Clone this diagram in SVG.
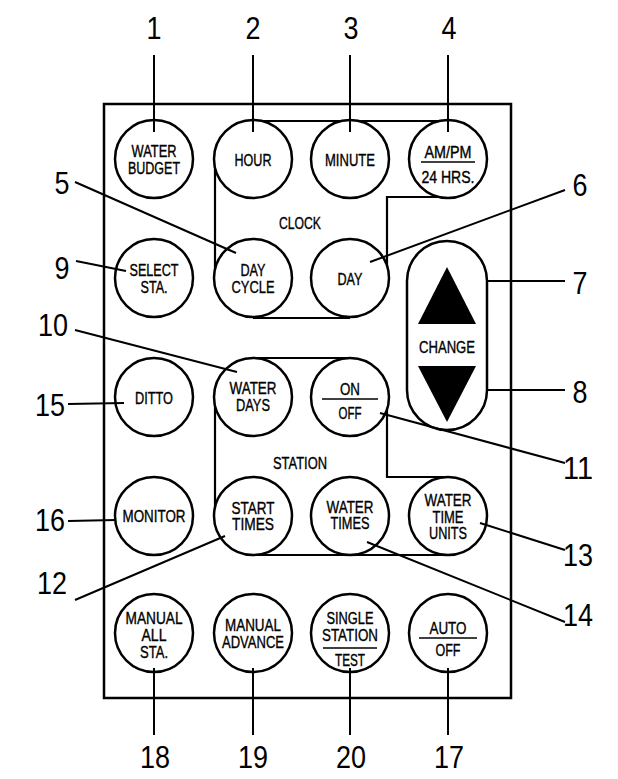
<svg xmlns="http://www.w3.org/2000/svg" width="618" height="779" viewBox="0 0 618 779">
<style>
.bg{fill:#fff}
.panel{fill:none;stroke:#000;stroke-width:2.5}
.btn{fill:#fff;stroke:#000;stroke-width:2.5}
.br{fill:none;stroke:#000;stroke-width:2.2}
.ld{fill:none;stroke:#000;stroke-width:2}
.sep{stroke:#000;stroke-width:1.6}
.t{font-family:"Liberation Sans",Arial,sans-serif;font-size:16px;text-anchor:middle;fill:#000;stroke:#000;stroke-width:0.35}
.n{font-family:"Liberation Sans",Arial,sans-serif;font-size:31px;text-anchor:middle;fill:#000}
</style>
<rect class="bg" x="0" y="0" width="618" height="779"/>
<rect class="panel" x="104" y="104" width="407" height="594"/>
<g id="brackets">
<path class="br" d="M253 121H448M215 159V278M253 318H350M387 278V197H448"/>
<path class="br" d="M253 358H350M215 397V516M253 555H448M387 397V477H448"/>
<text class="t" x="300" y="229" textLength="42" lengthAdjust="spacingAndGlyphs">CLOCK</text>
<text class="t" x="300" y="469" textLength="54" lengthAdjust="spacingAndGlyphs">STATION</text>
</g>
<g id="water-budget"><circle class="btn" cx="154" cy="159" r="39"/><text class="t" x="154" y="157" textLength="45" lengthAdjust="spacingAndGlyphs">WATER</text><text class="t" x="154" y="174" textLength="52" lengthAdjust="spacingAndGlyphs">BUDGET</text></g>
<g id="hour"><circle class="btn" cx="253" cy="159" r="39"/><text class="t" x="253" y="165.5" textLength="37" lengthAdjust="spacingAndGlyphs">HOUR</text></g>
<g id="minute"><circle class="btn" cx="350" cy="159" r="39"/><text class="t" x="350" y="165.5" textLength="50" lengthAdjust="spacingAndGlyphs">MINUTE</text></g>
<g id="ampm"><circle class="btn" cx="448" cy="159" r="39"/><text class="t" x="448" y="158" textLength="47" lengthAdjust="spacingAndGlyphs">AM/PM</text><line class="sep" x1="421" y1="162" x2="475" y2="162"/><text class="t" x="448" y="183" textLength="53" lengthAdjust="spacingAndGlyphs">24 HRS.</text></g>
<g id="select-sta"><circle class="btn" cx="154" cy="278" r="39"/><text class="t" x="154" y="276" textLength="49" lengthAdjust="spacingAndGlyphs">SELECT</text><text class="t" x="154" y="293" textLength="27" lengthAdjust="spacingAndGlyphs">STA.</text></g>
<g id="day-cycle"><circle class="btn" cx="253" cy="278" r="39"/><text class="t" x="253" y="276" textLength="25" lengthAdjust="spacingAndGlyphs">DAY</text><text class="t" x="253" y="293" textLength="43" lengthAdjust="spacingAndGlyphs">CYCLE</text></g>
<g id="day"><circle class="btn" cx="350" cy="278" r="39"/><text class="t" x="350" y="284.5" textLength="25" lengthAdjust="spacingAndGlyphs">DAY</text></g>
<g id="change"><rect class="btn" x="407" y="241" width="80" height="189" rx="40"/><polygon points="447,267 476,324 418,324"/><text class="t" x="447" y="353" textLength="56" lengthAdjust="spacingAndGlyphs">CHANGE</text><polygon points="418,366 476,366 447,422"/></g>
<g id="ditto"><circle class="btn" cx="154" cy="397" r="39"/><text class="t" x="154" y="404" textLength="38" lengthAdjust="spacingAndGlyphs">DITTO</text></g>
<g id="water-days"><circle class="btn" cx="253" cy="397" r="39"/><text class="t" x="253" y="394" textLength="47" lengthAdjust="spacingAndGlyphs">WATER</text><text class="t" x="253" y="411" textLength="34" lengthAdjust="spacingAndGlyphs">DAYS</text></g>
<g id="on-off"><circle class="btn" cx="350" cy="397" r="39"/><text class="t" x="350" y="395" textLength="20" lengthAdjust="spacingAndGlyphs">ON</text><line class="sep" x1="322" y1="399" x2="378" y2="399"/><text class="t" x="350" y="419" textLength="23" lengthAdjust="spacingAndGlyphs">OFF</text></g>
<g id="monitor"><circle class="btn" cx="154" cy="516" r="39"/><text class="t" x="154" y="521.5" textLength="63" lengthAdjust="spacingAndGlyphs">MONITOR</text></g>
<g id="start-times"><circle class="btn" cx="253" cy="516" r="39"/><text class="t" x="253" y="514" textLength="43" lengthAdjust="spacingAndGlyphs">START</text><text class="t" x="253" y="530" textLength="42" lengthAdjust="spacingAndGlyphs">TIMES</text></g>
<g id="water-times"><circle class="btn" cx="350" cy="516" r="39"/><text class="t" x="350" y="513" textLength="47" lengthAdjust="spacingAndGlyphs">WATER</text><text class="t" x="350" y="529" textLength="39" lengthAdjust="spacingAndGlyphs">TIMES</text></g>
<g id="water-time-units"><circle class="btn" cx="448" cy="516" r="39"/><text class="t" x="448" y="506" textLength="47" lengthAdjust="spacingAndGlyphs">WATER</text><text class="t" x="448" y="523" textLength="31" lengthAdjust="spacingAndGlyphs">TIME</text><text class="t" x="448" y="539" textLength="38" lengthAdjust="spacingAndGlyphs">UNITS</text></g>
<g id="manual-all-sta"><circle class="btn" cx="154" cy="633" r="39"/><text class="t" x="154" y="624" textLength="57" lengthAdjust="spacingAndGlyphs">MANUAL</text><text class="t" x="154" y="641" textLength="25" lengthAdjust="spacingAndGlyphs">ALL</text><text class="t" x="154" y="658" textLength="28" lengthAdjust="spacingAndGlyphs">STA.</text></g>
<g id="manual-advance"><circle class="btn" cx="253" cy="633" r="39"/><text class="t" x="253" y="631" textLength="56" lengthAdjust="spacingAndGlyphs">MANUAL</text><text class="t" x="253" y="648" textLength="62" lengthAdjust="spacingAndGlyphs">ADVANCE</text></g>
<g id="single-station-test"><circle class="btn" cx="350" cy="633" r="39"/><text class="t" x="350" y="624" textLength="47" lengthAdjust="spacingAndGlyphs">SINGLE</text><text class="t" x="350" y="641" textLength="56" lengthAdjust="spacingAndGlyphs">STATION</text><line class="sep" x1="323" y1="648" x2="377" y2="648"/><text class="t" x="350" y="665.5" textLength="30" lengthAdjust="spacingAndGlyphs">TEST</text></g>
<g id="auto-off"><circle class="btn" cx="448" cy="633" r="39"/><text class="t" x="448" y="633.5" textLength="37" lengthAdjust="spacingAndGlyphs">AUTO</text><line class="sep" x1="419" y1="638" x2="477" y2="638"/><text class="t" x="448" y="656" textLength="25" lengthAdjust="spacingAndGlyphs">OFF</text></g>
<g id="connectors">
<path class="ld" d="M154 55V132M253 55V132M350 55V132M448 55V132"/>
<path class="ld" d="M75 182L236 253M565 190L370 262M76 261L126 271M75 330L237 372"/>
<path class="ld" d="M487 281H565M487 390H565M68 404L124 403M380 413L565 463"/>
<path class="ld" d="M68 521L116 520M480 523L565 550M75 600L225 536M367 542L565 622"/>
<path class="ld" d="M154 668V735M253 668V735M350 668V735M448 668V735"/>
</g>
<g id="labels">
<text class="n" x="154" y="39" textLength="15" lengthAdjust="spacingAndGlyphs">1</text>
<text class="n" x="253" y="39" textLength="15" lengthAdjust="spacingAndGlyphs">2</text>
<text class="n" x="351" y="39" textLength="15" lengthAdjust="spacingAndGlyphs">3</text>
<text class="n" x="449" y="39" textLength="15" lengthAdjust="spacingAndGlyphs">4</text>
<text class="n" x="62" y="194" textLength="15" lengthAdjust="spacingAndGlyphs">5</text>
<text class="n" x="580" y="196" textLength="15" lengthAdjust="spacingAndGlyphs">6</text>
<text class="n" x="62" y="279" textLength="15" lengthAdjust="spacingAndGlyphs">9</text>
<text class="n" x="580" y="294" textLength="15" lengthAdjust="spacingAndGlyphs">7</text>
<text class="n" x="53" y="336" textLength="30" lengthAdjust="spacingAndGlyphs">10</text>
<text class="n" x="580" y="403" textLength="15" lengthAdjust="spacingAndGlyphs">8</text>
<text class="n" x="50" y="416" textLength="30" lengthAdjust="spacingAndGlyphs">15</text>
<text class="n" x="578" y="479" textLength="30" lengthAdjust="spacingAndGlyphs">11</text>
<text class="n" x="50" y="531" textLength="30" lengthAdjust="spacingAndGlyphs">16</text>
<text class="n" x="578" y="566" textLength="30" lengthAdjust="spacingAndGlyphs">13</text>
<text class="n" x="52" y="594" textLength="30" lengthAdjust="spacingAndGlyphs">12</text>
<text class="n" x="578" y="626" textLength="30" lengthAdjust="spacingAndGlyphs">14</text>
<text class="n" x="155" y="768" textLength="30" lengthAdjust="spacingAndGlyphs">18</text>
<text class="n" x="253" y="768" textLength="30" lengthAdjust="spacingAndGlyphs">19</text>
<text class="n" x="351" y="768" textLength="30" lengthAdjust="spacingAndGlyphs">20</text>
<text class="n" x="449" y="768" textLength="30" lengthAdjust="spacingAndGlyphs">17</text>
</g>
</svg>
